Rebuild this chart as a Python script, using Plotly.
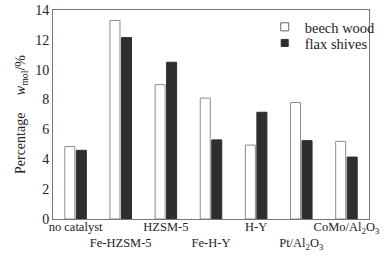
import plotly.graph_objects as go

categories = ["no catalyst", "Fe-HZSM-5", "HZSM-5", "Fe-H-Y", "H-Y",
              "Pt/Al<sub>2</sub>O<sub>3</sub>", "CoMo/Al<sub>2</sub>O<sub>3</sub>"]
beech_wood = [4.85, 13.3, 9.0, 8.1, 4.95, 7.8, 5.2]
flax_shives = [4.6, 12.15, 10.5, 5.3, 7.15, 5.25, 4.15]
y_ticks = [0, 2, 4, 6, 8, 10, 12, 14]

x = list(range(len(categories)))
ticktext = [c if i % 2 == 0 else "<br>" + c for i, c in enumerate(categories)]

font = "Liberation Serif, Times New Roman, serif"

fig = go.Figure()
fig.add_trace(go.Bar(x=x, y=beech_wood, name="beech wood", showlegend=False,
                     marker=dict(color="white", line=dict(color="#8c8c8c", width=1))))
fig.add_trace(go.Bar(x=x, y=flax_shives, name="flax shives", showlegend=False,
                     marker=dict(color="#2e2e2e", line=dict(color="#2e2e2e", width=1))))
# legend entries with small square symbols, one legend each for exact placement
fig.add_trace(go.Scatter(x=[None], y=[None], mode="markers", name="beech wood",
                         legend="legend",
                         marker=dict(symbol="square", size=8, color="white",
                                     line=dict(color="#666", width=1))))
fig.add_trace(go.Scatter(x=[None], y=[None], mode="markers", name="flax shives",
                         legend="legend2",
                         marker=dict(symbol="square", size=7, color="#2e2e2e",
                                     line=dict(color="#2e2e2e", width=1))))

legend_common = dict(xanchor="left", yanchor="middle", bgcolor="rgba(0,0,0,0)",
                     font=dict(size=14.5, family=font), itemwidth=30)

fig.update_layout(
    width=386, height=261,
    margin=dict(l=53, r=17, t=10, b=42, autoexpand=False),
    paper_bgcolor="white", plot_bgcolor="white",
    barmode="group", bargap=0.49, bargroupgap=0.13,
    font=dict(family=font, size=13, color="#222"),
    showlegend=True,
    legend=dict(x=0.67, y=0.919, **legend_common),
    legend2=dict(x=0.67, y=0.842, **legend_common),
    xaxis=dict(range=[-0.5, 6.5], tickvals=x, ticktext=ticktext, tickangle=0,
               automargin=False, ticklabeloverflow="allow", ticklabelstandoff=-4,
               showline=True, linecolor="#777", linewidth=1, mirror=True,
               ticks="", showgrid=False, tickfont=dict(size=12.5, family=font)),
    yaxis=dict(range=[0, 14], tickvals=y_ticks, showline=True, linecolor="#777",
               linewidth=1, mirror=True, ticks="",
               automargin=False,
               showgrid=False, zeroline=False, tickfont=dict(size=14, family=font),
               title=dict(text="Percentage     <i>w</i><sub>mol</sub>/%",
                          font=dict(size=14, family=font), standoff=6)),
)

fig.write_html("out.html",
               config={"displayModeBar": False},
               post_script="document.body.style.margin='0';document.body.style.overflow='hidden';")
